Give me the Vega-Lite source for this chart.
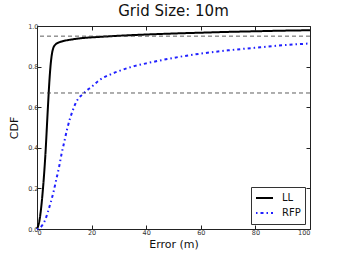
{
  "$schema": "https://vega.github.io/schema/vega-lite/v6.json",
  "autosize": "none",
  "width": 273,
  "height": 203,
  "padding": {"left": 37, "top": 26, "right": 28, "bottom": 34},
  "background": "white",
  "config": {
    "font": "DejaVu Sans",
    "view": {"stroke": "#222", "strokeWidth": 1},
    "axis": {"grid": false, "domain": false, "tickSize": -4, "tickColor": "#222", "labelFont": "DejaVu Sans", "labelFontSize": 6.5, "labelColor": "#333", "titleFont": "DejaVu Sans", "titleFontSize": 11, "titleFontWeight": "normal", "titleColor": "#111"}
  },
  "title": {"text": "Grid Size: 10m", "fontSize": 15, "fontWeight": "normal", "font": "DejaVu Sans", "color": "#111", "offset": 4},
  "datasets": {
    "curves": [
      {"s": "LL", "x": 0, "y": 0},
      {"s": "LL", "x": 1, "y": 0.05},
      {"s": "LL", "x": 2, "y": 0.17},
      {"s": "LL", "x": 3, "y": 0.35},
      {"s": "LL", "x": 4, "y": 0.6},
      {"s": "LL", "x": 4.5, "y": 0.72},
      {"s": "LL", "x": 5, "y": 0.81},
      {"s": "LL", "x": 5.5, "y": 0.865},
      {"s": "LL", "x": 6, "y": 0.893},
      {"s": "LL", "x": 6.5, "y": 0.905},
      {"s": "LL", "x": 7, "y": 0.912},
      {"s": "LL", "x": 8, "y": 0.919},
      {"s": "LL", "x": 10, "y": 0.927},
      {"s": "LL", "x": 12, "y": 0.932},
      {"s": "LL", "x": 15, "y": 0.938},
      {"s": "LL", "x": 20, "y": 0.944},
      {"s": "LL", "x": 25, "y": 0.948},
      {"s": "LL", "x": 30, "y": 0.952},
      {"s": "LL", "x": 40, "y": 0.958},
      {"s": "LL", "x": 50, "y": 0.963},
      {"s": "LL", "x": 60, "y": 0.967},
      {"s": "LL", "x": 70, "y": 0.971},
      {"s": "LL", "x": 80, "y": 0.974},
      {"s": "LL", "x": 90, "y": 0.977},
      {"s": "LL", "x": 100, "y": 0.979},
      {"s": "RFP", "x": 0, "y": 0},
      {"s": "RFP", "x": 1, "y": 0.005},
      {"s": "RFP", "x": 2, "y": 0.02},
      {"s": "RFP", "x": 3, "y": 0.045},
      {"s": "RFP", "x": 4, "y": 0.085},
      {"s": "RFP", "x": 5, "y": 0.13},
      {"s": "RFP", "x": 6, "y": 0.18},
      {"s": "RFP", "x": 7, "y": 0.24},
      {"s": "RFP", "x": 8, "y": 0.3},
      {"s": "RFP", "x": 9, "y": 0.37},
      {"s": "RFP", "x": 10, "y": 0.43},
      {"s": "RFP", "x": 11, "y": 0.49},
      {"s": "RFP", "x": 12, "y": 0.54},
      {"s": "RFP", "x": 13, "y": 0.58},
      {"s": "RFP", "x": 14, "y": 0.615},
      {"s": "RFP", "x": 15, "y": 0.64},
      {"s": "RFP", "x": 16, "y": 0.655},
      {"s": "RFP", "x": 17, "y": 0.667},
      {"s": "RFP", "x": 18, "y": 0.68},
      {"s": "RFP", "x": 20, "y": 0.7},
      {"s": "RFP", "x": 23, "y": 0.735},
      {"s": "RFP", "x": 27, "y": 0.762},
      {"s": "RFP", "x": 30, "y": 0.778},
      {"s": "RFP", "x": 35, "y": 0.8},
      {"s": "RFP", "x": 40, "y": 0.816},
      {"s": "RFP", "x": 45, "y": 0.83},
      {"s": "RFP", "x": 50, "y": 0.843},
      {"s": "RFP", "x": 60, "y": 0.864},
      {"s": "RFP", "x": 70, "y": 0.88},
      {"s": "RFP", "x": 80, "y": 0.893},
      {"s": "RFP", "x": 90, "y": 0.905},
      {"s": "RFP", "x": 100, "y": 0.914}
    ],
    "refs": [{"y": 0.95}, {"y": 0.67}]
  },
  "layer": [
    {
      "data": {"name": "curves"},
      "mark": {"type": "line", "strokeWidth": 2, "interpolate": "monotone"},
      "encoding": {
        "x": {"field": "x", "type": "quantitative", "scale": {"domain": [0, 100], "nice": false}, "title": "Error (m)", "axis": {"values": [0, 20, 40, 60, 80, 100], "format": "d", "titlePadding": 3, "labelPadding": 4}},
        "y": {"field": "y", "type": "quantitative", "scale": {"domain": [0, 1]}, "title": "CDF", "axis": {"values": [0, 0.2, 0.4, 0.6, 0.8, 1.0], "format": ".1f", "titlePadding": 8, "labelPadding": 3}},
        "color": {"field": "s", "type": "nominal", "scale": {"domain": ["LL", "RFP"], "range": ["black", "#2020ff"]}, "title": null,
          "legend": {"orient": "bottom-right", "offset": 5, "strokeColor": "#333", "fillColor": "white", "padding": 4, "cornerRadius": 0, "symbolType": "stroke", "symbolSize": 289, "symbolStrokeWidth": 2, "clipHeight": 14, "labelFontSize": 10, "labelOffset": 8, "labelFont": "DejaVu Sans", "labelColor": "#111", "rowPadding": 1}},
        "strokeDash": {"field": "s", "type": "nominal", "scale": {"domain": ["LL", "RFP"], "range": [[1, 0], [1.5, 3, 3, 3]]}, "legend": null}
      }
    },
    {
      "data": {"name": "refs"},
      "mark": {"type": "rule", "color": "#333", "strokeWidth": 0.8, "strokeDash": [4, 3]},
      "encoding": {
        "y": {"field": "y", "type": "quantitative", "scale": {"domain": [0, 1]}, "axis": {"orient": "right", "values": [0, 0.2, 0.4, 0.6, 0.8, 1.0], "labels": false, "title": null}}
      }
    },
    {
      "data": {"name": "refs"},
      "mark": {"type": "rule", "opacity": 0},
      "encoding": {
        "x": {"field": "y", "type": "quantitative", "scale": {"domain": [0, 100], "nice": false}, "axis": {"orient": "top", "values": [0, 20, 40, 60, 80, 100], "labels": false, "title": null}}
      }
    }
  ],
  "resolve": {"axis": {"y": "independent", "x": "independent"}}
}
